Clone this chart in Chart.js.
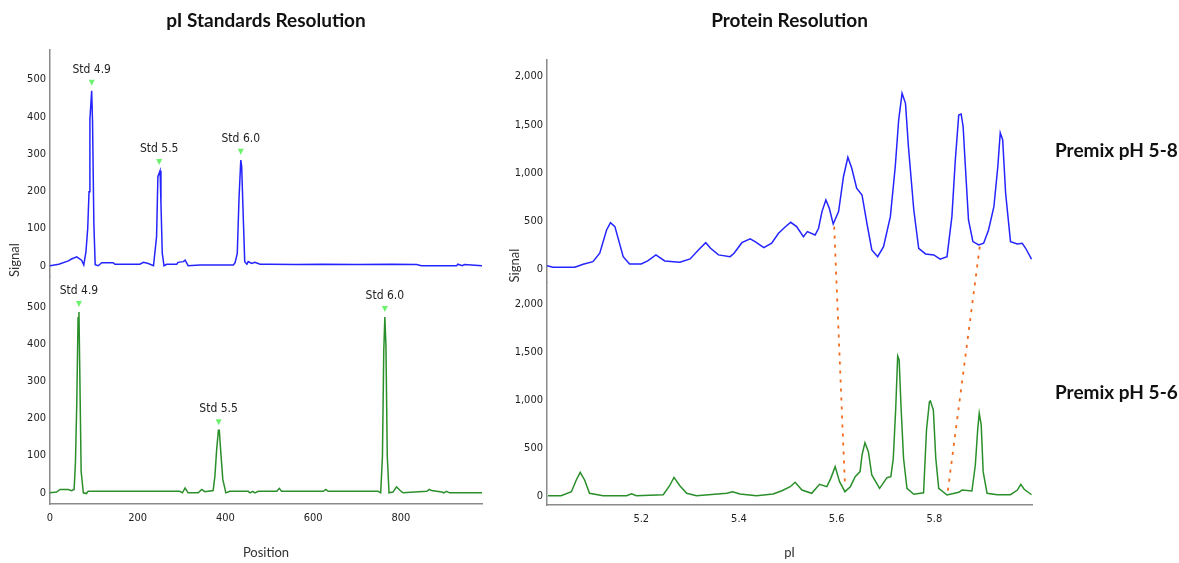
<!DOCTYPE html>
<html>
<head>
<meta charset="utf-8">
<title>pI Resolution</title>
<script src="https://cdn.jsdelivr.net/npm/chart.js@4.4.1/dist/chart.umd.min.js"></script>
<style>
  html, body { margin: 0; padding: 0; background: #fff; }
  #page { position: relative; width: 1179px; height: 563px; overflow: hidden; }
  .box { position: absolute; top: 0; height: 563px; }
  #leftBox { left: 0; width: 500px; }
  #rightBox { left: 500px; width: 679px; }
  .premix { position: absolute; left: 1055px; font: bold 19px Lato, 'Open Sans', sans-serif; color: #111; line-height: 20px; white-space: nowrap; }
</style>
</head>
<body>
<div id="page">
  <div class="box" id="leftBox"><canvas id="stdChart"></canvas></div>
  <div class="box" id="rightBox"><canvas id="protChart"></canvas></div>
  <div class="premix" style="top:140px">Premix pH 5-8</div>
  <div class="premix" style="top:382px">Premix pH 5-6</div>
</div>
<script>
// --- pI STANDARDS (left) : position vs signal ---
const POS_STD_TOP = [0, 20, 42, 49, 61, 72, 77, 82, 86, 89, 91, 95, 97, 100, 103, 110, 118, 144, 148, 205,
  213, 224, 236, 243, 246, 251, 253, 256, 260, 266, 289, 292, 304, 308, 315, 342, 418, 422, 427, 431,
  435, 437, 441, 444, 449, 452, 460, 467, 479, 502, 560, 620, 700, 780, 836, 847, 927, 930, 940, 945, 985];
const SIG_STD_TOP = [0, 4, 13, 18, 24, 15, 2, 38, 100, 199, 393, 470, 386, 114, 3, 0, 8, 8, 4, 4,
  9, 6, 0, 78, 239, 255, 167, 33, 0, 4, 4, 9, 11, 15, 0, 2, 2, 8, 33, 181,
  284, 268, 118, 11, 4, 11, 6, 9, 4, 4, 3, 4, 3, 4, 3, 0, 0, 4, 0, 3, 0];

const POS_STD_BOT = [0, 15, 23, 42, 49, 55, 58, 61, 64, 66, 68, 71, 76, 83, 87, 296, 302, 308, 315, 338,
  346, 353, 372, 376, 380, 384, 386, 389, 394, 401, 410, 452, 456, 462, 467, 475, 517, 523, 528, 623,
  629, 634, 748, 754, 758, 761, 763.5, 766, 769, 773, 782, 790, 798, 805, 859, 865, 870, 893, 898, 904, 911, 985];
const SIG_STD_BOT = [0, 2, 9, 9, 6, 9, 81, 237, 470, 486, 318, 58, 0, -2, 4, 4, 0, 13, 0, 0,
  9, 3, 6, 45, 116, 168, 168, 116, 36, 0, 4, 4, 0, 4, 0, 4, 4, 12, 4, 4,
  9, 4, 4, 0, 98, 381, 472, 394, 98, 0, 2, 16, 7, 0, 4, 9, 6, 2, 0, 4, 0, 0];

const STD_LABELS = ['Std 4.9', 'Std 5.5', 'Std 6.0'];
const STD_TOP_POS = [95, 249, 435];
const STD_TOP_PEAK = [470, 257, 285];
const STD_BOT_POS = [66, 384.5, 763.5];
const STD_BOT_PEAK = [486, 168, 472];

const POS_TICKS = [0, 200, 400, 600, 800];
const STD_Y_TICKS = [0, 100, 200, 300, 400, 500];

// --- PROTEIN RESOLUTION (right) : pI vs signal ---
const PI_TOP = [5.007, 5.019, 5.064, 5.081, 5.101, 5.115, 5.129, 5.137, 5.146, 5.163, 5.176, 5.2, 5.214, 5.23,
  5.248, 5.279, 5.3, 5.317, 5.332, 5.342, 5.358, 5.382, 5.39, 5.406, 5.423, 5.433, 5.451, 5.467, 5.481,
  5.494, 5.506, 5.518, 5.532, 5.54, 5.556, 5.563, 5.57, 5.578, 5.585, 5.593, 5.604, 5.614, 5.623, 5.631,
  5.641, 5.652, 5.662, 5.672, 5.684, 5.696, 5.71, 5.72, 5.727, 5.734, 5.741, 5.747, 5.758, 5.768, 5.782,
  5.799, 5.812, 5.826, 5.836, 5.843, 5.85, 5.855, 5.859, 5.864, 5.87, 5.879, 5.891, 5.901, 5.911, 5.922,
  5.93, 5.935, 5.94, 5.946, 5.956, 5.97, 5.98, 5.987, 5.999];
const SIG_TOP = [34, 18, 18, 49, 76, 163, 405, 481, 440, 128, 52, 52, 86, 146,
  83, 69, 104, 197, 273, 215, 146, 128, 163, 273, 312, 284, 221, 267, 371,
  433, 485, 440, 336, 388, 353, 423, 596, 717, 631, 468, 596, 959, 1161, 1047,
  839, 769, 475, 198, 128, 232, 544, 1063, 1549, 1826, 1722, 1271, 613, 215, 156,
  146, 101, 128, 544, 1133, 1601, 1611, 1479, 1029, 509, 284, 249, 267, 405, 648,
  1063, 1417, 1341, 787, 284, 260, 267, 215, 101];

const PI_BOT = [5.009, 5.036, 5.057, 5.067, 5.075, 5.084, 5.094, 5.122, 5.17, 5.18, 5.19, 5.245, 5.258, 5.267,
  5.279, 5.293, 5.313, 5.375, 5.387, 5.402, 5.436, 5.47, 5.488, 5.505, 5.515, 5.529, 5.549, 5.565, 5.58,
  5.588, 5.597, 5.606, 5.617, 5.628, 5.638, 5.648, 5.652, 5.658, 5.665, 5.672, 5.688, 5.703, 5.711, 5.716,
  5.721, 5.725, 5.728, 5.732, 5.737, 5.744, 5.758, 5.778, 5.784, 5.79, 5.792, 5.798, 5.803, 5.809, 5.826,
  5.85, 5.857, 5.877, 5.884, 5.889, 5.892, 5.896, 5.9, 5.908, 5.929, 5.956, 5.97, 5.977, 5.984, 5.999];
const SIG_BOT = [0, 0, 42, 164, 244, 164, 25, 0, 0, 20, 0, 10, 104, 191,
  104, 25, 0, 25, 42, 17, 0, 17, 52, 94, 140, 59, 25, 119, 94,
  181, 303, 146, 42, 94, 198, 251, 425, 553, 459, 216, 77, 188, 198, 390,
  912, 1458, 1417, 912, 390, 77, 15, 30, 686, 981, 989, 894, 390, 77, 7,
  35, 59, 49, 320, 703, 860, 738, 251, 25, 10, 10, 59, 119, 67, 10];

// peaks linked between the two premixes (top pI/signal -> bottom pI/signal)
const LINK_TOP_PI = [5.595, 5.893];
const LINK_TOP_SIG = [440, 232];
const LINK_BOT_PI = [5.617, 5.827];
const LINK_BOT_SIG = [112, 25];

const PI_TICKS = [5.2, 5.4, 5.6, 5.8];
const PROT_Y_TICKS = [0, 500, 1000, 1500, 2000];

// --- STYLE ---
const BLUE = '#2424ff';
const GREEN = '#2a8f2a';
const MARK_GREEN = '#6cf26c';
const LINK_ORANGE = '#f26a1b';
const AXIS_GREY = '#8a8a8a';
const TICK_FONT = { family: "'Liberation Sans Narrow', 'DejaVu Sans Condensed', 'Liberation Sans', sans-serif", size: 11 };
const LABEL_FONT = { family: "Lato, 'Open Sans', sans-serif", size: 13 };
const TITLE_FONT = { family: "Lato, 'Open Sans', sans-serif", size: 19, weight: 'bold' };

const toPoints = (xs, ys) => xs.map((x, i) => ({ x: x, y: ys[i] }));
const setTicks = list => scale => { scale.ticks = list.map(v => ({ value: v })); };
const fixWidth = w => scale => { scale.width = w; };
const fixHeight = h => scale => { scale.height = h; };

function traceSet(data, color, axis) {
    return {
        data: data,
        yAxisID: axis,
        borderColor: color,
        borderWidth: 1.5,
        pointRadius: 0,
        tension: 0,
        fill: false
    };
}

function yAxis(min, max, ticks, width, withTitle, fmt) {
    return {
        type: 'linear',
        position: 'left',
        stack: 'signal',
        stackWeight: 1,
        min: min,
        max: max,
        afterBuildTicks: setTicks(ticks),
        afterFit: fixWidth(width),
        grid: { display: false, drawTicks: false },
        border: { display: true, color: AXIS_GREY, width: 1.5 },
        ticks: { font: TICK_FONT, color: '#222', padding: 4, callback: fmt },
        title: {
            display: withTitle,
            text: 'Signal',
            align: 'start',
            font: LABEL_FONT,
            color: '#333',
            padding: { top: 7, bottom: 0 }
        }
    };
}

function xAxis(min, max, ticks, label, height, fmt) {
    return {
        type: 'linear',
        min: min,
        max: max,
        afterBuildTicks: setTicks(ticks),
        afterFit: fixHeight(height),
        grid: { display: false, drawTicks: false },
        border: { display: true, color: AXIS_GREY, width: 1.5 },
        ticks: { font: TICK_FONT, color: '#222', padding: 8, maxRotation: 0, callback: fmt },
        title: { display: true, text: label, font: LABEL_FONT, color: '#333', padding: { top: 0, bottom: 2 } }
    };
}

// --- PLUGIN: standard peak markers and labels ---
const stdMarks = {
    id: 'stdMarks',
    afterDatasetsDraw(chart) {
        const { ctx, scales } = chart;
        const groups = [['yTop', STD_TOP_POS, STD_TOP_PEAK], ['yBot', STD_BOT_POS, STD_BOT_PEAK]];
        ctx.save();
        ctx.font = "12px 'Liberation Sans Narrow', 'DejaVu Sans Condensed', 'Liberation Sans', sans-serif";
        ctx.textAlign = 'center';
        ctx.textBaseline = 'middle';
        groups.forEach(([id, pos, peak]) => {
            pos.forEach((p, i) => {
                const x = scales.x.getPixelForValue(p);
                const y = scales[id].getPixelForValue(peak[i]) - 8;
                ctx.fillStyle = MARK_GREEN;
                ctx.beginPath();
                ctx.moveTo(x - 3, y - 3);
                ctx.lineTo(x + 3, y - 3);
                ctx.lineTo(x, y + 3);
                ctx.closePath();
                ctx.fill();
                ctx.fillStyle = '#222';
                ctx.fillText(STD_LABELS[i], x, y - 13);
            });
        });
        ctx.restore();
    }
};

// --- PLUGIN: dashed links between matching peaks ---
const peakLinks = {
    id: 'peakLinks',
    afterDatasetsDraw(chart) {
        const { ctx, scales } = chart;
        ctx.save();
        ctx.strokeStyle = LINK_ORANGE;
        ctx.lineWidth = 1.8;
        ctx.setLineDash([3, 6]);
        LINK_TOP_PI.forEach((pi, i) => {
            ctx.beginPath();
            ctx.moveTo(scales.x.getPixelForValue(pi), scales.yTop.getPixelForValue(LINK_TOP_SIG[i]));
            ctx.lineTo(scales.x.getPixelForValue(LINK_BOT_PI[i]), scales.yBot.getPixelForValue(LINK_BOT_SIG[i]));
            ctx.stroke();
        });
        ctx.restore();
    }
};

const fmtInt = v => Number(v).toLocaleString('en-US');

// stacked left axes: the later-defined one is placed on top
new Chart(document.getElementById('stdChart'), {
    type: 'line',
    data: {
        datasets: [
            traceSet(toPoints(POS_STD_TOP, SIG_STD_TOP), BLUE, 'yTop'),
            traceSet(toPoints(POS_STD_BOT, SIG_STD_BOT), GREEN, 'yBot')
        ]
    },
    options: {
        responsive: true,
        maintainAspectRatio: false,
        animation: false,
        layout: { padding: { left: 0, right: 18, top: 0, bottom: 0 } },
        plugins: {
            legend: { display: false },
            tooltip: { enabled: false },
            title: {
                display: true,
                text: 'pI Standards Resolution',
                font: TITLE_FONT,
                color: '#111',
                fullSize: false,
                padding: { top: 9, bottom: 18 }
            }
        },
        scales: {
            x: xAxis(0, 985, POS_TICKS, 'Position', 59, v => v),
            yBot: yAxis(-30, 580, STD_Y_TICKS, 50, false, v => v),
            yTop: yAxis(-30, 580, STD_Y_TICKS, 50, true, v => v)
        }
    },
    plugins: [stdMarks]
});

new Chart(document.getElementById('protChart'), {
    type: 'line',
    data: {
        datasets: [
            traceSet(toPoints(PI_TOP, SIG_TOP), BLUE, 'yTop'),
            traceSet(toPoints(PI_BOT, SIG_BOT), GREEN, 'yBot')
        ]
    },
    options: {
        responsive: true,
        maintainAspectRatio: false,
        animation: false,
        layout: { padding: { left: 0, right: 147, top: 0, bottom: 0 } },
        plugins: {
            legend: { display: false },
            tooltip: { enabled: false },
            title: {
                display: true,
                text: 'Protein Resolution',
                font: TITLE_FONT,
                color: '#111',
                fullSize: false,
                padding: { top: 9, bottom: 28 }
            }
        },
        scales: {
            x: xAxis(5.007, 6.0, PI_TICKS, 'pI', 58, v => Number(v).toFixed(1)),
            yBot: yAxis(-97, 2225, PROT_Y_TICKS, 47, false, fmtInt),
            yTop: yAxis(-140, 2175, PROT_Y_TICKS, 47, true, fmtInt)
        }
    },
    plugins: [peakLinks]
});
</script>
</body>
</html>
